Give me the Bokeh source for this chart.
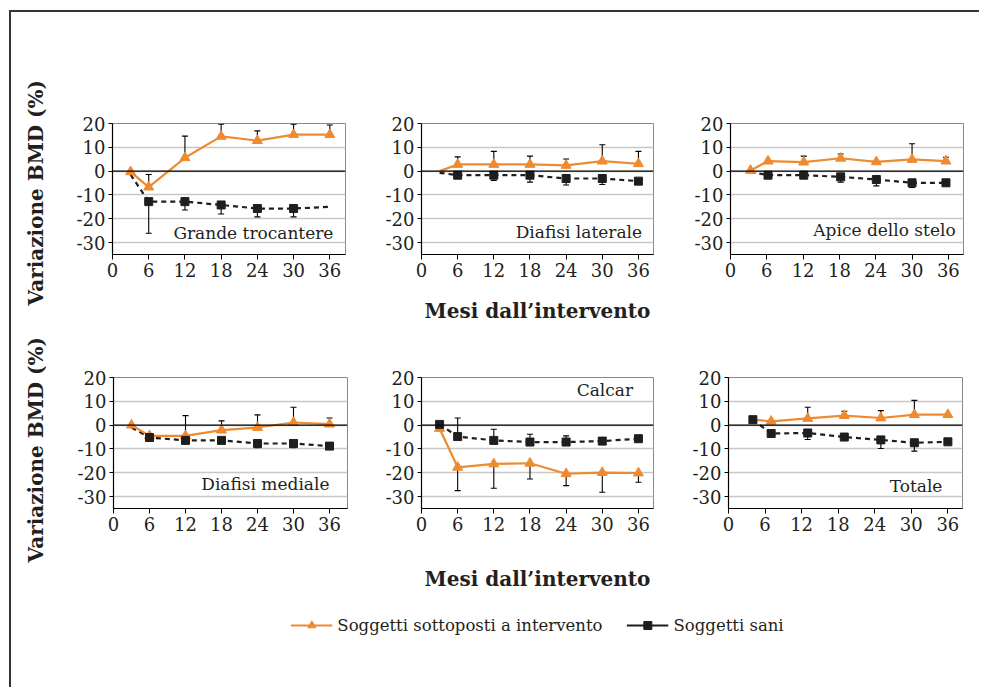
import math
from bokeh.plotting import figure
from bokeh.layouts import column, row
from bokeh.models import Range1d, FixedTicker, Span, Label, Legend, LegendItem
from bokeh.embed import file_html
from bokeh.resources import INLINE

NAN = float("nan")
ORANGE = "#EE8A2F"
BLACK = "#1E1E1E"
TXT = "#231F20"
FONT = "DejaVu Serif"

# ---------------- data ----------------
x_ticks = [0, 6, 12, 18, 24, 30, 36]
y_ticks = [-30, -20, -10, 0, 10, 20]
y_tick_labels = ["-30", "-20", "-10", "0", "10", "20"]

months = [3, 6, 12, 18, 24, 30, 36]
months_apice = [3.3, 6.2, 12.1, 18.2, 24.1, 30, 35.6]
months_tot = [4, 7, 13, 19, 25, 30.5, 36]

panel_titles = ["Grande trocantere", "Diafisi laterale", "Apice dello stelo",
                "Diafisi mediale", "Calcar", "Totale"]
series_names = ["Soggetti sottoposti a intervento", "Soggetti sani"]
x_title = "Mesi dall\u2019intervento"
y_title = "Variazione BMD (%)"

# Grande trocantere
gt_int = [-0.3, -6.7, 5.6, 14.6, 12.8, 15.3, 15.3]
gt_int_bar = [NAN, -1.4, 14.7, 19.7, 16.9, 19.7, 19.4]
gt_int_mark = [1, 1, 1, 1, 1, 1, 1]
gt_san = [-1.5, -12.8, -12.8, -14.2, -15.7, -15.7, -15.0]
gt_san_bar = [NAN, -26.1, -16.3, -18.0, -19.2, -19.2, NAN]
gt_san_mark = [0, 1, 1, 1, 1, 1, 0]

# Diafisi laterale
dl_int = [0.0, 2.8, 2.8, 2.8, 2.4, 4.2, 3.1]
dl_int_bar = [NAN, 6.0, 8.3, 6.3, 5.1, 11.1, 8.3]
dl_int_mark = [0, 1, 1, 1, 1, 1, 1]
dl_san = [-0.7, -1.7, -1.7, -1.7, -3.1, -3.1, -4.2]
dl_san_bar = [NAN, NAN, -3.9, -4.6, -5.8, -5.6, NAN]
dl_san_mark = [0, 1, 1, 1, 1, 1, 1]

# Apice dello stelo
ap_int = [0.3, 4.2, 3.8, 5.4, 3.9, 4.9, 4.2]
ap_int_bar = [NAN, NAN, 6.3, 7.2, NAN, 11.5, 5.8]
ap_int_mark = [1, 1, 1, 1, 1, 1, 1]
ap_san = [-0.4, -1.7, -1.7, -2.4, -3.5, -4.9, -4.9]
ap_san_bar = [NAN, NAN, NAN, -4.6, -6.2, -6.9, NAN]
ap_san_mark = [0, 1, 1, 1, 1, 1, 1]

# Diafisi mediale
dm_int = [0.0, -4.5, -4.5, -2.1, -1.0, 1.1, 0.4]
dm_int_bar = [NAN, NAN, 4.0, 1.8, 4.3, 7.5, 3.0]
dm_int_mark = [1, 1, 1, 1, 1, 1, 1]
dm_san = [-1.0, -5.2, -6.4, -6.4, -7.7, -7.7, -8.8]
dm_san_bar = [NAN, NAN, NAN, NAN, -9.5, -9.5, NAN]
dm_san_mark = [0, 1, 1, 1, 1, 1, 1]

# Calcar
ca_int = [-1.4, -17.7, -16.3, -16.0, -20.4, -19.9, -20.1]
ca_int_bar = [NAN, -27.5, -26.5, -22.6, -25.4, -28.2, -24.0]
ca_int_mark = [1, 1, 1, 1, 1, 1, 1]
ca_san = [0.3, -4.8, -6.4, -7.1, -7.1, -6.7, -5.7]
ca_san_bar = [NAN, 3.0, -1.7, -3.8, -4.5, NAN, NAN]
ca_san_mark = [1, 1, 1, 1, 1, 1, 1]

# Totale
to_int = [2.3, 1.6, 2.8, 4.0, 3.0, 4.4, 4.4]
to_int_bar = [NAN, NAN, 7.5, 5.8, 6.1, 10.4, NAN]
to_int_mark = [0, 1, 1, 1, 1, 1, 1]
to_san = [2.3, -3.5, -3.3, -5.0, -6.2, -7.4, -7.0]
to_san_bar = [NAN, NAN, -6.0, NAN, -9.8, -10.9, NAN]
to_san_mark = [1, 1, 1, 1, 1, 1, 1]


def sel(xs, ys, flags=None):
    ox, oy = [], []
    for i, (a, b) in enumerate(zip(xs, ys)):
        if flags is not None and not flags[i]:
            continue
        if b != b:
            continue
        ox.append(a)
        oy.append(b)
    return ox, oy


def make_panel(w, h, mbl, mbr, mbt, mbb, x_end, xs, intv, intv_bar, intv_mark,
               san, san_bar, san_mark, title, tx, ty, xlab=False, xlab_standoff=18):
    p = figure(width=w, height=h, x_range=Range1d(0, x_end), y_range=Range1d(-35, 20),
               toolbar_location=None, output_backend="svg",
               min_border_left=mbl, min_border_right=mbr,
               min_border_top=mbt, min_border_bottom=mbb)
    p.background_fill_color = "white"
    p.border_fill_color = "white"
    p.outline_line_color = "#8a8a8a"
    p.outline_line_width = 1
    p.xaxis.ticker = FixedTicker(ticks=x_ticks)
    p.yaxis.ticker = FixedTicker(ticks=y_ticks)
    p.yaxis.major_label_overrides = {t: s for t, s in zip(y_ticks, y_tick_labels)}
    p.axis.minor_tick_line_color = None
    p.axis.major_tick_in = 0
    p.xaxis.major_tick_out = 5
    p.yaxis.major_tick_out = 4
    p.axis.axis_line_color = "black"
    p.axis.axis_line_width = 1.2
    p.axis.major_tick_line_color = "black"
    p.axis.major_tick_line_width = 1
    p.axis.major_label_text_font = FONT
    p.axis.major_label_text_font_size = "18px"
    p.axis.major_label_text_color = TXT
    p.axis.major_label_standoff = 3
    p.xgrid.grid_line_color = None
    p.ygrid.grid_line_color = "#C8C8C8"
    p.ygrid.grid_line_width = 1.5
    if xlab:
        p.xaxis.axis_label = x_title
        p.xaxis.axis_label_text_font = FONT
        p.xaxis.axis_label_text_font_style = "bold"
        p.xaxis.axis_label_text_font_size = "20px"
        p.xaxis.axis_label_text_color = TXT
        p.xaxis.axis_label_standoff = xlab_standoff
    p.add_layout(Span(location=0, dimension="width", line_color="black", line_width=1.2))

    # error bars
    for vals, bars in ((intv, intv_bar), (san, san_bar)):
        bx, by0, by1 = [], [], []
        for a, v, b in zip(xs, vals, bars):
            if b == b:
                bx.append(a)
                by0.append(v)
                by1.append(b)
        if bx:
            p.segment(x0=bx, y0=by0, x1=bx, y1=by1, line_color="black", line_width=1.1)
            p.scatter(bx, by1, marker="dash", size=6, line_color="black", line_width=1.1)

    p.line(xs, san, line_color=BLACK, line_width=2.2, line_dash="5 4")
    p.line(xs, intv, line_color=ORANGE, line_width=2.2)
    mx, my = sel(xs, intv, intv_mark)
    p.scatter(mx, my, marker="triangle", size=10, fill_color=ORANGE, line_color=ORANGE)
    mx, my = sel(xs, san, san_mark)
    p.scatter(mx, my, marker="square", size=8, fill_color=BLACK, line_color=BLACK)

    p.add_layout(Label(x=tx, y=ty, text=title, text_align="right", text_baseline="alphabetic",
                       text_font=FONT, text_font_size="17px", text_color=TXT))
    return p


def make_ytitle(w, h, mbl, shift):
    # narrow strip whose left-side title is the rotated y-axis title of a row
    p = figure(width=w, height=h, x_range=Range1d(0, 1), y_range=Range1d(0, 1),
               toolbar_location=None, output_backend="svg",
               x_axis_location=None, y_axis_location=None,
               title=y_title, title_location="left",
               min_border_left=mbl, min_border_right=0, min_border_top=0, min_border_bottom=0)
    p.outline_line_color = None
    p.grid.visible = False
    p.title.align = "left"
    p.title.offset = shift
    p.title.text_font = FONT
    p.title.text_font_style = "bold"
    p.title.text_font_size = "20px"
    p.title.text_color = TXT
    return p


H1, T1, B1 = 313, 111, 71
H2, T2, B2 = 270, 52, 87
YW = 50

t1 = make_ytitle(YW, H1, 41, -51)
f1 = make_panel(354 - YW, H1, 101 - YW, 20, T1, B1, 38.6, months, gt_int, gt_int_bar, gt_int_mark,
                gt_san, gt_san_bar, gt_san_mark, panel_titles[0], 36.6, -26.0)
f2 = make_panel(307, H1, 56, 19, T1, B1, 38.5, months, dl_int, dl_int_bar, dl_int_mark,
                dl_san, dl_san_bar, dl_san_mark, panel_titles[1], 36.6, -25.5, xlab=True,
                xlab_standoff=19)
f3 = make_panel(300, H1, 58, 9, T1, B1, 38.5, months_apice, ap_int, ap_int_bar, ap_int_mark,
                ap_san, ap_san_bar, ap_san_mark, panel_titles[2], 37.2, -24.8)
t2 = make_ytitle(YW, H2, 41, -54)
f4 = make_panel(354 - YW, H2, 102 - YW, 18, T2, B2, 39.0, months, dm_int, dm_int_bar, dm_int_mark,
                dm_san, dm_san_bar, dm_san_mark, panel_titles[3], 36.0, -24.8)
f5 = make_panel(307, H2, 56, 19, T2, B2, 38.5, months, ca_int, ca_int_bar, ca_int_mark,
                ca_san, ca_san_bar, ca_san_mark, panel_titles[4], 35.1, 14.8, xlab=True,
                xlab_standoff=33)
f6 = make_panel(300, H2, 56, 10, T2, B2, 38.4, months_tot, to_int, to_int_bar, to_int_mark,
                to_san, to_san_bar, to_san_mark, panel_titles[5], 35.1, -25.5)

# legend strip (its renderers use the real series, kept outside the strip's visible range)
leg = figure(width=968, height=92, x_range=Range1d(100, 101), y_range=Range1d(100, 101),
             toolbar_location=None, output_backend="svg",
             x_axis_location=None, y_axis_location=None,
             min_border_left=84, min_border_right=0, min_border_top=0, min_border_bottom=32)
leg.outline_line_color = None
leg.grid.visible = False
l1 = leg.line(months, gt_int, line_color=ORANGE, line_width=2.2)
s1 = leg.scatter(months, gt_int, marker="triangle", size=9, fill_color=ORANGE, line_color=ORANGE)
l2 = leg.line(months, gt_san, line_color=BLACK, line_width=2.2)
s2 = leg.scatter(months, gt_san, marker="square", size=7, fill_color=BLACK, line_color=BLACK)
legend = Legend(items=[LegendItem(label=series_names[0], renderers=[l1, s1]),
                       LegendItem(label=series_names[1], renderers=[l2, s2])],
                orientation="horizontal", location="center", spacing=24,
                glyph_width=42, label_standoff=5, padding=0, margin=0,
                border_line_alpha=0, background_fill_alpha=0,
                label_text_font=FONT, label_text_font_size="16.5px", label_text_color=TXT)
leg.add_layout(legend, "center")

layout = column(row(t1, f1, f2, f3), row(t2, f4, f5, f6), leg,
                styles={"border-top": "2px solid #333", "border-left": "2px solid #333",
                        "margin-top": "10px", "margin-left": "9px"})

open("out.html", "w").write(file_html(layout, INLINE))
